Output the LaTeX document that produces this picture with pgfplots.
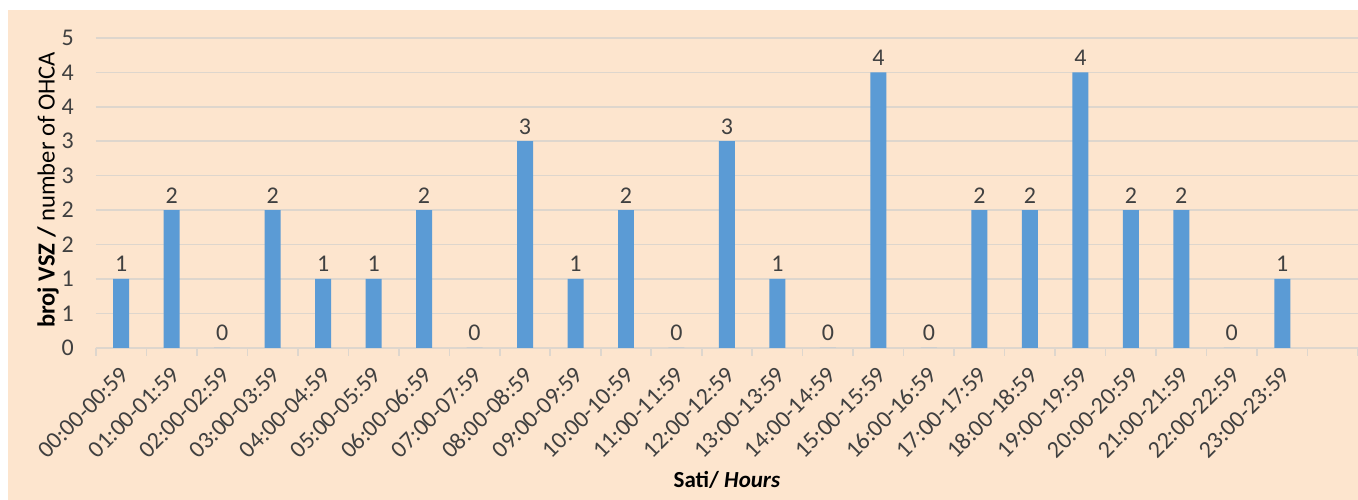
\documentclass[border=0pt]{standalone}
\usepackage{pgfplots}
\pgfplotsset{compat=1.18}
\usepackage{fontspec}
\setmainfont{Carlito}
\definecolor{peach}{RGB}{253,229,206}
\definecolor{barblue}{RGB}{91,155,213}
\definecolor{gridc}{RGB}{222,214,205}
\definecolor{txt}{RGB}{64,64,64}

\begin{document}
\begin{tikzpicture}
% page and chart area (1px = 0.5pt)
\path[use as bounding box,fill=white] (-48pt,-76pt) rectangle (631.5pt,174pt);
\fill[peach] (-44pt,-76pt) rectangle (631.5pt,169pt);
\begin{axis}[
  at={(0,0)},anchor=south west,
  scale only axis,width=631.5pt,height=155pt,
  xmin=-0.5,xmax=24.5,ymin=0,ymax=4.5,
  axis x line*=bottom,axis y line*=left,
  y axis line style={draw=none},
  x axis line style={gridc,line width=0.8pt},
  ybar,bar width=8pt,
  xtick={0,...,23},
  xticklabels={00:00-00:59,01:00-01:59,02:00-02:59,03:00-03:59,04:00-04:59,05:00-05:59,06:00-06:59,07:00-07:59,08:00-08:59,09:00-09:59,10:00-10:59,11:00-11:59,12:00-12:59,13:00-13:59,14:00-14:59,15:00-15:59,16:00-16:59,17:00-17:59,18:00-18:59,19:00-19:59,20:00-20:59,21:00-21:59,22:00-22:59,23:00-23:59},
  minor xtick={-0.5,0.5,...,24.5},
  major tick length=0pt,minor tick length=4pt,tick align=outside,
  minor x tick style={gridc,line width=0.8pt},
  ytick={0,0.5,...,4.5},
  yticklabels={0,1,1,2,2,3,3,4,4,5},
  ymajorgrids,grid style={gridc,line width=0.8pt},
  tick label style={font=\fontsize{12}{14}\selectfont,text=txt},
  % shifts act in the rotated frame
  xticklabel style={rotate=45,anchor=east,xshift=-3.5pt,yshift=-9.5pt},
  yticklabel style={xshift=-7.5pt},
  ylabel={\textbf{broj VSZ /} number of OHCA},
  ylabel style={at={(axis description cs:0,0.5)},anchor=center,xshift=1.5pt,yshift=24pt,font=\fontsize{12.3}{14}\selectfont,text=black},
  xlabel={\textbf{Sati/ \textit{Hours}}},
  xlabel style={at={(axis description cs:0.5,0)},yshift=-66pt,anchor=center,font=\fontsize{11.5}{13}\selectfont,text=black},
  nodes near coords={\pgfmathprintnumber[assume math mode=true]{\pgfplotspointmeta}},
  nodes near coords style={font=\fontsize{12}{14}\selectfont,text=txt,yshift=0pt},
  clip=false,
]
\addplot[fill=barblue,draw=none] coordinates {
(0,1) (1,2) (2,0) (3,2) (4,1) (5,1) (6,2) (7,0) (8,3) (9,1) (10,2) (11,0)
(12,3) (13,1) (14,0) (15,4) (16,0) (17,2) (18,2) (19,4) (20,2) (21,2) (22,0) (23,1)};
\end{axis}
\end{tikzpicture}
\end{document}
